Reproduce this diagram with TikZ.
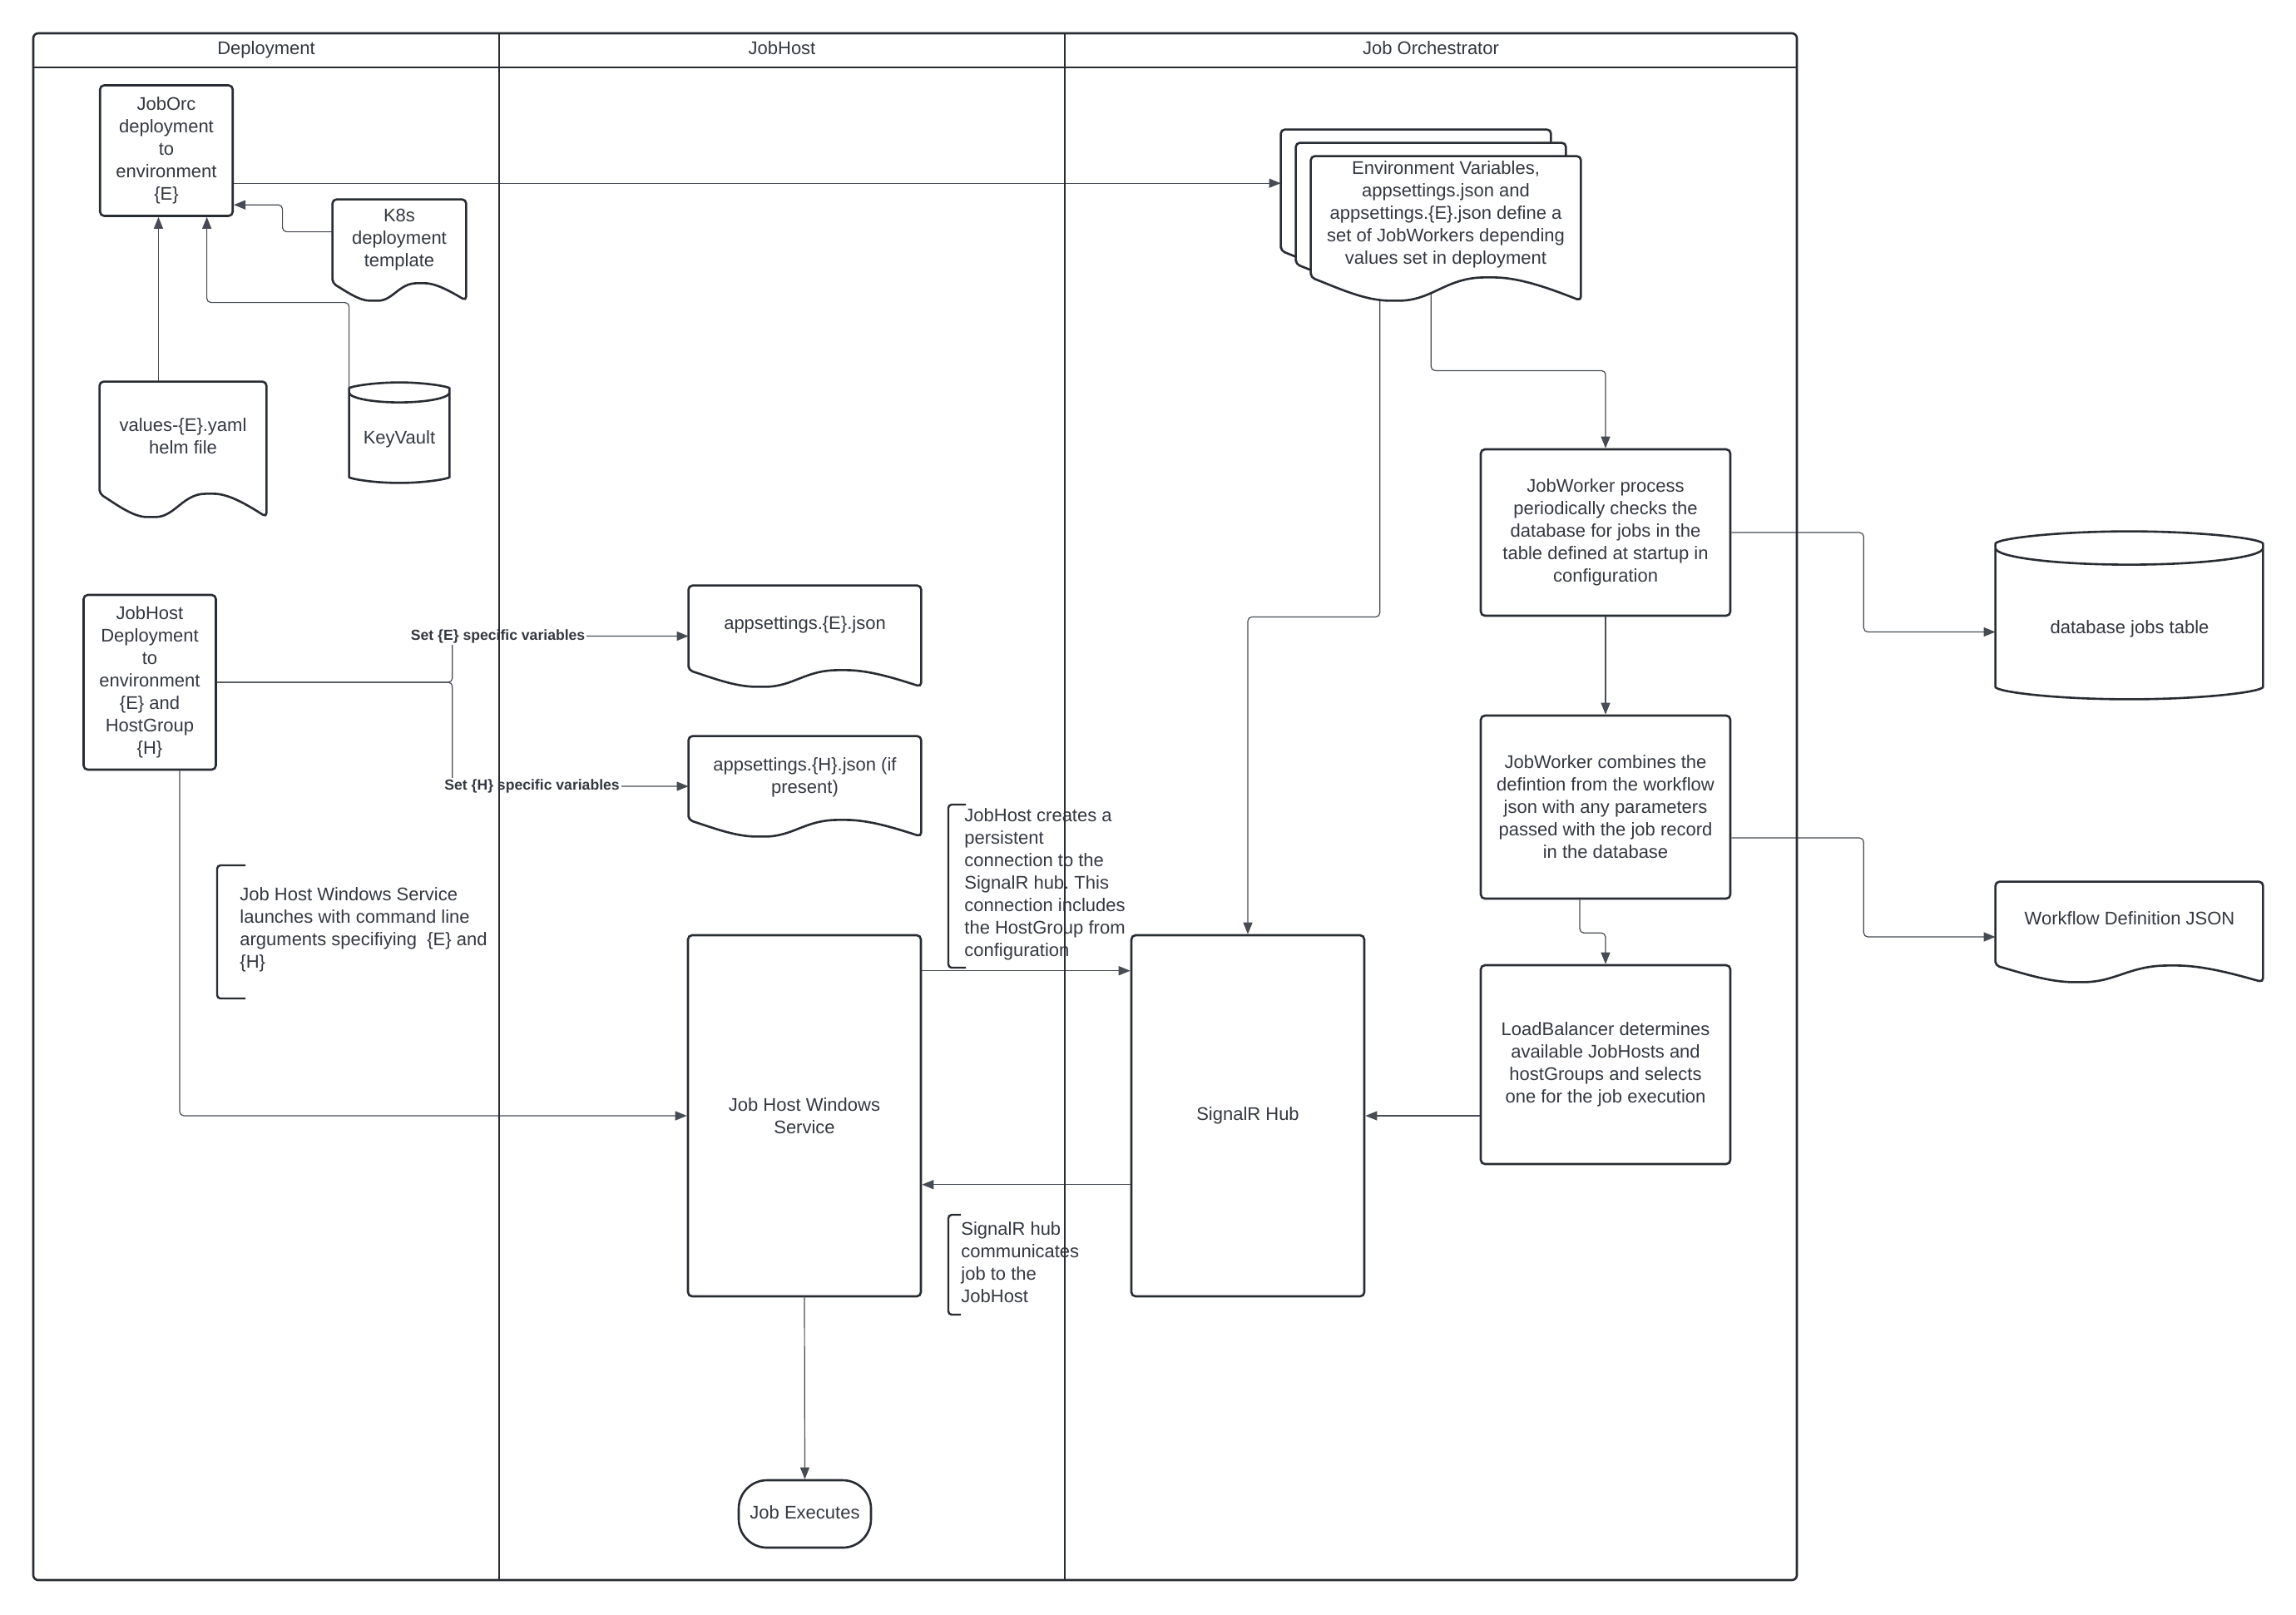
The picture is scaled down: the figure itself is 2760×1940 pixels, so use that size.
\documentclass[tikz,border=0pt]{standalone}
\usepackage{fontspec}
\setmainfont{Liberation Sans}
\usetikzlibrary{arrows.meta,calc}
\definecolor{txt}{RGB}{51,56,64}
\definecolor{edge}{RGB}{40,44,51}
\definecolor{wire}{RGB}{70,75,84}
\tikzset{
  base/.style={font=\fontsize{11}{13.5}\selectfont\frenchspacing, text=txt, align=center},
  one/.style={text height=8pt, text depth=2.3pt},
  box/.style={base, draw=edge, line width=1.3pt, rounded corners=2.5pt, fill=white, inner sep=0pt},
  frame/.style={inner sep=0pt},
  sz/.style 2 args={minimum width={#1*0.5pt}, minimum height={#2*0.5pt}},
  shp/.style={draw=edge, line width=1.3pt, fill=white, rounded corners=2.5pt},
  conn/.style={draw=wire, line width=0.6pt, rounded corners=2.5pt},
  arr/.style={conn, -{Triangle[length=7pt,width=5.5pt]}},
  lbl/.style={font=\fontsize{8.8}{10}\selectfont\bfseries, text=txt, fill=white, inner sep=1pt},
  note/.style={base, align=left, anchor=west, inner sep=0pt},
  brk/.style={draw=edge, line width=1.2pt, rounded corners=2pt},
  pool/.style={draw=edge, line width=1.3pt},
  lane/.style={draw=edge, line width=1pt},
}
\newcommand\docout[2]{%
  \path[shp] let \p1=(#1.north west), \p2=(#1.south east) in
    ({\x1},{\y2+#2}) -- ({\x1},{\y1}) -- ({\x2},{\y1}) -- ({\x2},{\y2})
    .. controls ({\x2-0.1*(\x2-\x1)},{\y2+0.45*#2}) and ({\x1+0.78*(\x2-\x1)},{\y2+#2}) .. ({\x1+0.66*(\x2-\x1)},{\y2+#2})
    .. controls ({\x1+0.5*(\x2-\x1)},{\y2+#2}) and ({\x1+0.45*(\x2-\x1)},{\y2}) .. ({\x1+0.31*(\x2-\x1)},{\y2})
    .. controls ({\x1+0.2*(\x2-\x1)},{\y2}) and ({\x1+0.1*(\x2-\x1)},{\y2+0.55*#2}) .. ({\x1},{\y2+#2}) -- cycle;}
\newcommand\cylout[2]{%
  \path[shp] let \p1=(#1.north west), \p2=(#1.south east) in
    ({\x1},{\y1-#2}) -- ({\x1},{\y2+#2})
    arc[start angle=180, end angle=360, x radius={(\x2-\x1)/2}, y radius=#2]
    -- ({\x2},{\y1-#2})
    arc[start angle=0, end angle=180, x radius={(\x2-\x1)/2}, y radius=#2] -- cycle
    ({\x1},{\y1-#2}) arc[start angle=180, end angle=360, x radius={(\x2-\x1)/2}, y radius=#2];}
\begin{document}
\begin{tikzpicture}[x=0.5pt,y=-0.5pt]
\useasboundingbox (0,0) rectangle (2760,1940);
\fill[white] (0,0) rectangle (2760,1940);

% ---------- nodes ----------
\node[box,sz={159.5}{157}] (orc) at (200,181) {JobOrc\\deployment\\to\\environment\\\{E\}};
\node[frame,sz={160}{121}] (k8s) at (480,300.5) {};
\node[frame,sz={200}{162}] (vals) at (220,540) {};
\node[frame,sz={120}{120}] (kv) at (480,520) {};
\node[box,sz={159}{210}] (jhd) at (180,820) {JobHost\\Deployment\\to\\environment\\\{E\} and\\HostGroup\\\{H\}};
\node[frame,sz={279}{121}] (aE) at (967.5,764.5) {};
\node[frame,sz={279}{120}] (aH) at (967.5,945) {};
\node[box,sz={280}{434}] (jws) at (967,1341) {Job Host Windows\\Service};
\node[box,one,sz={159}{81},rounded corners=17pt] (je) at (967.5,1819.5) {Job Executes};
\node[box,one,sz={280}{434}] (sig) at (1500,1341) {SignalR Hub};
\node[frame,sz={324}{173}] (sB) at (1702,242.5) {};
\node[frame,sz={324}{173}] (sM) at (1720,258.5) {};
\node[frame,sz={324}{173}] (sF) at (1738,274.5) {};
\node[box,sz={300}{200}] (jw1) at (1930,640) {JobWorker process\\periodically checks the\\database for jobs in the\\table defined at startup in\\configuration};
\node[box,sz={300}{220}] (jw2) at (1930,970) {JobWorker combines the\\defintion from the workflow\\json with any parameters\\passed with the job record\\in the database};
\node[box,sz={300}{239}] (lb) at (1930,1279.5) {LoadBalancer determines\\available JobHosts and\\hostGroups and selects\\one for the job execution};
\node[frame,sz={321}{201}] (db) at (2559.5,739.5) {};
\node[frame,sz={321}{120}] (wdj) at (2559.5,1120) {};

% ---------- connectors ----------
\coordinate (valsTop) at ($(vals.north west)!0.353!(vals.north east)$);
\draw[arr] (valsTop) -- (valsTop |- orc.south);
\coordinate (kvA) at ($(kv.north west)+(0,12)$);
\coordinate (orcB) at ($(orc.south west)!0.8!(orc.south east)$);
\draw[arr] (kvA) -- ++(0,-108) -| (orcB);
\draw[arr] ($(k8s.north west)+(0,39)$) -- ++(-60,0) |- ($(orc.north east)+(0,145)$);
\coordinate (orcR) at ($(orc.north east)+(0,119)$);
\draw[arr] (orcR) -- (orcR -| sB.west);
\coordinate (s1) at ($(sF.south west)!0.256!(sF.south east)$);
\draw[arr] ($(s1)+(0,-20)$) -- ($(s1)+(0,380)$) -| (sig.north);
\coordinate (s2) at ($(sF.south west)!0.445!(sF.south east)$);
\draw[arr] ($(s2)+(0,-20)$) -- ($(s2)+(0,84)$) -| (jw1.north);
\draw[arr] (jw1.south) -- (jw2.north);
\draw[arr] ($(jw2.south)+(-31,0)$) -- ++(0,40) -| (lb.north);
\draw[arr] (lb.west |- sig.east) -- (sig.east);
\draw[arr] (jw1.east) -- ++(159,0) |- ($(db.west)+(0,20)$);
\draw[arr] ($(jw2.east)+(0,37)$) -- ++(159,0) |- ($(wdj.west)+(0,6)$);
\coordinate (c1) at ($(jws.north east)+(0,44)$);
\draw[arr] (c1) -- (c1 -| sig.west);
\coordinate (c2) at ($(sig.north west)+(0,301)$);
\draw[arr] (c2) -- (c2 -| jws.east);
\draw[arr] (jws.south) -- (je.north);
\draw[arr] ($(jhd.south)+(36,0)$) |- (jws.west);
\draw[arr] (jhd.east) -- ++(283,0) |- (aE.west);
\draw[arr] (jhd.east) -- ++(283,0) |- (aH.west);

% ---------- document and cylinder shapes ----------
\docout{k8s}{10.5pt}
\docout{vals}{14pt}
\docout{aE}{10pt}
\docout{aH}{10pt}
\docout{sB}{14pt}
\docout{sM}{14pt}
\docout{sF}{14pt}
\docout{wdj}{10pt}
\cylout{kv}{6pt}
\cylout{db}{10pt}

\node[base] (k8sT) at (480,288) {K8s\\deployment\\template};
\node[base] (valsT) at (220,524) {values-\{E\}.yaml\\helm file};
\node[base,one] (kvT) at (480,528) {KeyVault};
\node[base,one] (aET) at (967.5,751) {appsettings.\{E\}.json};
\node[base] (aHT) at (967.5,934) {appsettings.\{H\}.json (if\\present)};
\node[base] (sFT) at (1738,258) {Environment Variables,\\appsettings.json and\\appsettings.\{E\}.json define a\\set of JobWorkers depending\\values set in deployment};
\node[base,one] (dbT) at (2560,756) {database jobs table};
\node[base,one] (wdjT) at (2560,1105.5) {Workflow Definition JSON};

% ---------- connector labels ----------
\node[lbl] (lE) at ($(aE.west)+(-229,0)$) {Set \{E\} specific variables};
\node[lbl] (lH) at ($(aH.west)+(-188,0)$) {Set \{H\} specific variables};

% ---------- annotations ----------
\node[note] (n3) at (288,1117) {Job Host Windows Service\\launches with command line\\arguments specifiying\ \ \{E\} and\\\{H\}};
\draw[brk] (295,1040) -- (261,1040) -- (261,1200) -- (295,1200);
\node[note] (n1) at (1159,1063) {JobHost creates a\\persistent\\connection to the\\SignalR hub. This\\connection includes\\the HostGroup from\\configuration};
\draw[brk] (1161,967) -- (1140,967) -- (1140,1163) -- (1161,1163);
\node[note] (n2) at (1155,1517) {SignalR hub\\communicates\\job to the\\JobHost};
\draw[brk] (1155,1460) -- (1140,1460) -- (1140,1580) -- (1155,1580);

% ---------- pool ----------
\draw[pool, rounded corners=3pt] (40,40) rectangle (2160,1899);
\draw[pool] (40,81) -- (2160,81);
\draw[lane] (600,40) -- (600,1899);
\draw[lane] (1280,40) -- (1280,1899);
\node[base,one] (hD) at (320,60) {Deployment};
\node[base,one] (hJ) at (940,60) {JobHost};
\node[base,one] (hO) at (1720,60) {Job Orchestrator};
\end{tikzpicture}
\end{document}
